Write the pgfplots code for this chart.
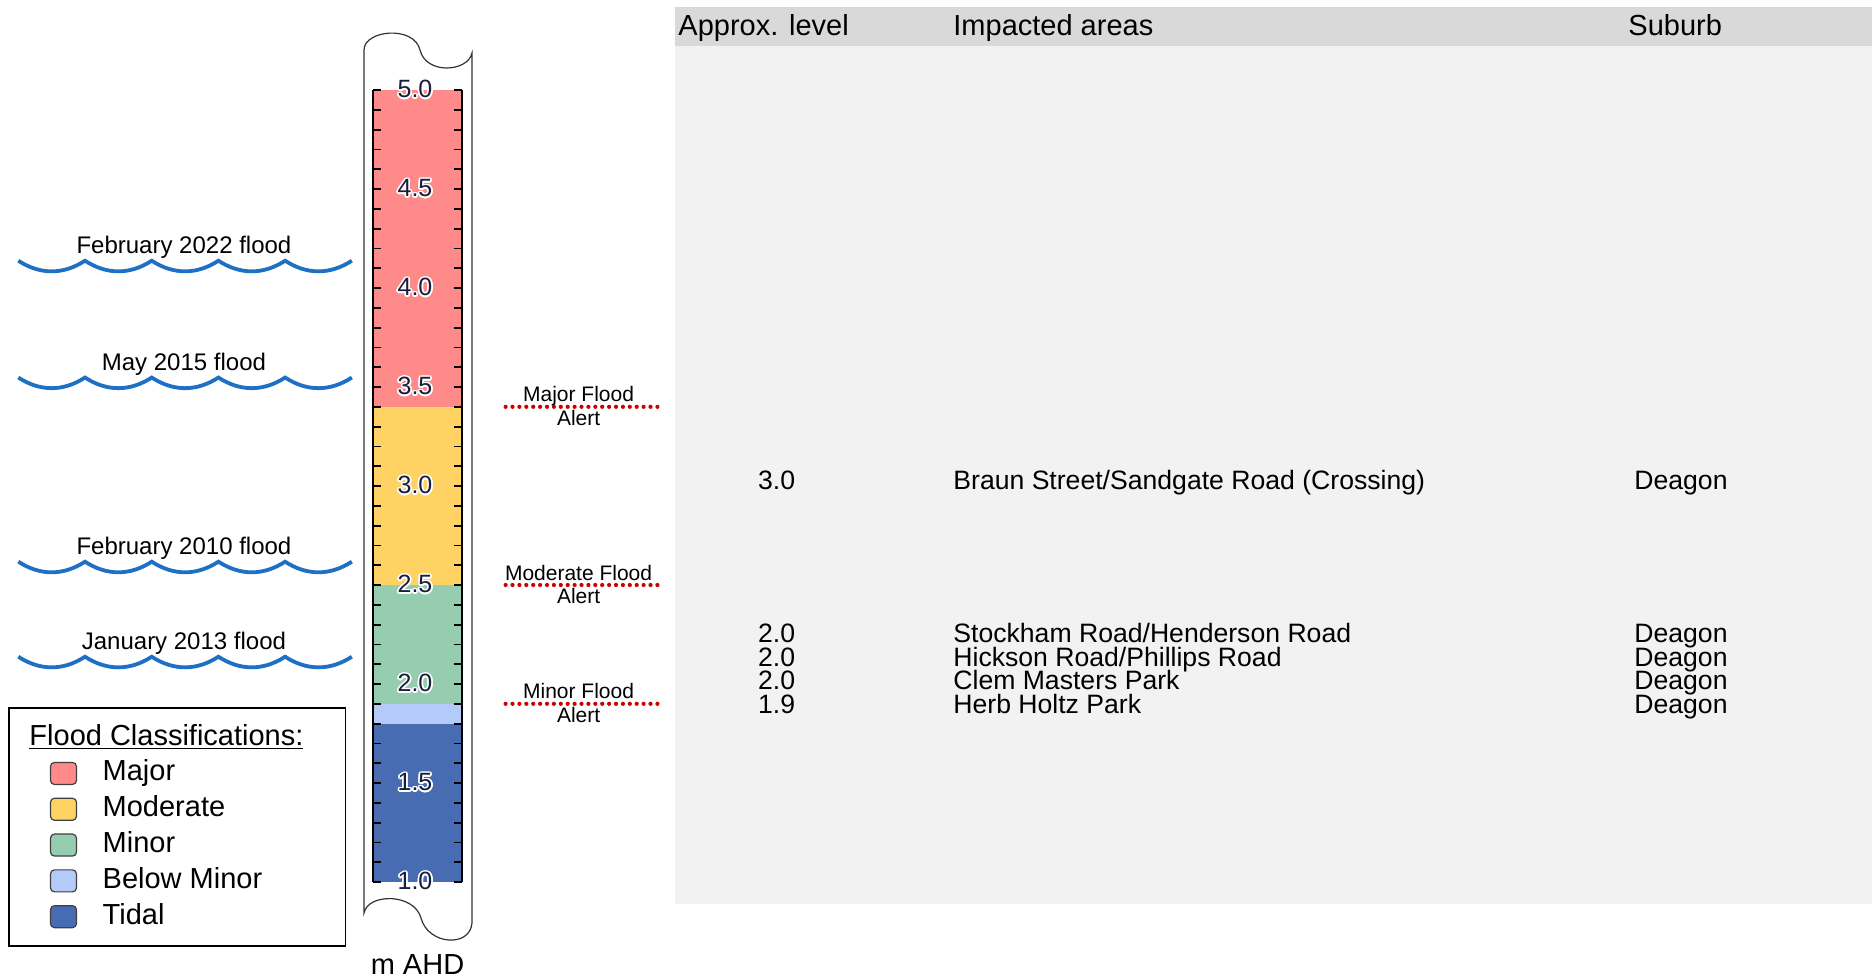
\documentclass[border=0pt]{standalone}
\usepackage{pgfplots}
\pgfplotsset{compat=1.18}
\usepackage{fontspec}
\setmainfont{Liberation Sans}
\usepackage{contour}
\contourlength{0.8pt}

\definecolor{cmajor}{RGB}{255,138,138}
\definecolor{cmoderate}{RGB}{255,210,100}
\definecolor{cminor}{RGB}{150,204,176}
\definecolor{cbelow}{RGB}{180,203,250}
\definecolor{ctidal}{RGB}{72,108,178}
\definecolor{cwave}{RGB}{30,112,196}
\definecolor{calert}{RGB}{205,0,0}
\definecolor{theadbg}{RGB}{217,217,217}
\definecolor{tbodybg}{RGB}{242,242,242}
\definecolor{ticktext}{RGB}{25,30,60}

\newcommand{\fsHead}{\fontsize{14.5}{17}\selectfont}
\newcommand{\fsRow}{\fontsize{13.3}{16}\selectfont}
\newcommand{\fsWave}{\fontsize{12}{14}\selectfont}
\newcommand{\fsAlert}{\fontsize{10.5}{12}\selectfont}

\begin{document}
\begin{tikzpicture}
\useasboundingbox (0,0) rectangle (936pt,-489pt);

% pixel grid of the reference: x to the right, y downwards
\begin{scope}[x=0.5pt,y=-0.5pt]
  % gauge scroll frame
  \draw[black!80, line width=0.6pt, fill=white]
    (364,913) -- (364,50)
    .. controls (364,30) and (414,25) .. (420,50)
    .. controls (426,75) and (468,72) .. (472,53)
    -- (472,923)
    .. controls (470,948) and (428,945) .. (421,918)
    .. controls (414,893) and (368,893) .. (364,913) -- cycle;

  % table of impacted areas
  \fill[tbodybg] (674.5,45.7) rectangle (1872,904);
  \fill[theadbg] (674.5,7) rectangle (1872,45.7);
  \begin{scope}[every node/.style={inner sep=0pt}]
    \node[anchor=base west, font=\fsHead] at (678,35.9) {Approx. level};
    \node[anchor=base west, font=\fsHead] at (953,35.9) {Impacted areas};
    \node[anchor=base west, font=\fsHead] at (1628,35.9) {Suburb};

    \node[anchor=base, font=\fsRow] at (776.6,489.5) {3.0};
    \node[anchor=base west, font=\fsRow] at (953,489.5) {Braun Street/Sandgate Road (Crossing)};
    \node[anchor=base west, font=\fsRow] at (1634,489.5) {Deagon};

    \node[anchor=base, font=\fsRow] at (776.6,642.3) {2.0};
    \node[anchor=base west, font=\fsRow] at (953,642.3) {Stockham Road/Henderson Road};
    \node[anchor=base west, font=\fsRow] at (1634,642.3) {Deagon};

    \node[anchor=base, font=\fsRow] at (776.6,666.3) {2.0};
    \node[anchor=base west, font=\fsRow] at (953,666.3) {Hickson Road/Phillips Road};
    \node[anchor=base west, font=\fsRow] at (1634,666.3) {Deagon};

    \node[anchor=base, font=\fsRow] at (776.6,689.6) {2.0};
    \node[anchor=base west, font=\fsRow] at (953,689.6) {Clem Masters Park};
    \node[anchor=base west, font=\fsRow] at (1634,689.6) {Deagon};

    \node[anchor=base, font=\fsRow] at (776.6,713.6) {1.9};
    \node[anchor=base west, font=\fsRow] at (953,713.6) {Herb Holtz Park};
    \node[anchor=base west, font=\fsRow] at (1634,713.6) {Deagon};
  \end{scope}
\end{scope}

\begin{axis}[
    at={(186.5pt,-441pt)}, anchor=south west,
    scale only axis, width=44.5pt, height=396pt,
    xmin=0, xmax=1, ymin=1, ymax=5,
    clip=false, axis on top,
    separate axis lines,
    x axis line style={draw=none},
    y axis line style={black, line width=0.9pt},
    xtick=\empty,
    ytick={1,1.5,2,2.5,3,3.5,4,4.5,5},
    minor y tick num=4,
    tick align=inside,
    major tick length=4pt, minor tick length=4pt,
    tick style={black, line width=0.9pt},
    /pgf/number format/assume math mode=true,
    yticklabel={\contour{white}{\pgfmathprintnumber[fixed,fixed zerofill,precision=1]{\tick}}},
    yticklabel style={anchor=center, xshift=21pt, font=\fontsize{12.5}{14}\selectfont, text=ticktext},
    xlabel={m AHD},
    xlabel style={at={(axis description cs:0.5,-0.1048)}, anchor=center, font=\fsHead},
    legend image code/.code={
      \path (-20.85pt,0pt);
      \draw[#1, draw=black!75, line width=0.6pt, rounded corners=2pt] (0pt,-5.5pt) rectangle (13pt,5.5pt);
    },
    legend cell align=left,
    legend style={at={(-4.1011,0.2205)}, anchor=north west,
      draw=black, line width=0.8pt,
      inner xsep=0pt, inner ysep=8pt,
      row sep=4.4pt, column sep=12.8pt,
      font=\fsHead,
      nodes={inner sep=0pt, text height=10.5pt, text depth=3pt}},
    legend entries={{\hspace*{-36.6pt}\underline{Flood Classifications:}\hspace*{21pt}},
      Major, Moderate, Minor, Below Minor, Tidal},
  ]
  \addlegendimage{empty legend}

  % flood classification bands (m AHD)
  \addplot[fill=cmajor, draw=none] coordinates {(0,3.4) (1,3.4) (1,5) (0,5)};
  \addplot[fill=cmoderate, draw=none] coordinates {(0,2.5) (1,2.5) (1,3.4) (0,3.4)};
  \addplot[fill=cminor, draw=none] coordinates {(0,1.9) (1,1.9) (1,2.5) (0,2.5)};
  \addplot[fill=cbelow, draw=none] coordinates {(0,1.8) (1,1.8) (1,1.9) (0,1.9)};
  \addplot[fill=ctidal, draw=none] coordinates {(0,1) (1,1) (1,1.8) (0,1.8)};

  % flood alert levels
  \addplot[calert, line width=2.1pt, dash pattern=on 0pt off 3.45pt, line cap=round, forget plot]
    coordinates {(1.49,3.4) (3.244,3.4)};
  \addplot[calert, line width=2.1pt, dash pattern=on 0pt off 3.45pt, line cap=round, forget plot]
    coordinates {(1.49,2.5) (3.244,2.5)};
  \addplot[calert, line width=2.1pt, dash pattern=on 0pt off 3.45pt, line cap=round, forget plot]
    coordinates {(1.49,1.9) (3.244,1.9)};

  \node[anchor=base, font=\fsAlert, inner sep=0pt, yshift=2.5pt] at (axis cs:2.31,3.4) {Major Flood};
  \node[anchor=base, font=\fsAlert, inner sep=0pt, yshift=-9.3pt] at (axis cs:2.31,3.4) {Alert};
  \node[anchor=base, font=\fsAlert, inner sep=0pt, yshift=2.5pt] at (axis cs:2.31,2.5) {Moderate Flood};
  \node[anchor=base, font=\fsAlert, inner sep=0pt, yshift=-9.3pt] at (axis cs:2.31,2.5) {Alert};
  \node[anchor=base, font=\fsAlert, inner sep=0pt, yshift=2.5pt] at (axis cs:2.31,1.9) {Minor Flood};
  \node[anchor=base, font=\fsAlert, inner sep=0pt, yshift=-9.3pt] at (axis cs:2.31,1.9) {Alert};

  % historical flood marks
  \draw[cwave, line width=1.9pt] (axis cs:-3.985,4.11) ++(0pt,2.75pt)
    \foreach \k in {1,...,5} { to[out=-33,in=-147] ++(33.35pt,0pt) };
  \draw[cwave, line width=1.9pt] (axis cs:-3.985,3.52) ++(0pt,2.75pt)
    \foreach \k in {1,...,5} { to[out=-33,in=-147] ++(33.35pt,0pt) };
  \draw[cwave, line width=1.9pt] (axis cs:-3.985,2.59) ++(0pt,2.75pt)
    \foreach \k in {1,...,5} { to[out=-33,in=-147] ++(33.35pt,0pt) };
  \draw[cwave, line width=1.9pt] (axis cs:-3.985,2.11) ++(0pt,2.75pt)
    \foreach \k in {1,...,5} { to[out=-33,in=-147] ++(33.35pt,0pt) };

  \node[anchor=base, font=\fsWave, inner sep=0pt, yshift=6.35pt] at (axis cs:-2.124,4.11) {February 2022 flood};
  \node[anchor=base, font=\fsWave, inner sep=0pt, yshift=6.35pt] at (axis cs:-2.124,3.52) {May 2015 flood};
  \node[anchor=base, font=\fsWave, inner sep=0pt, yshift=6.35pt] at (axis cs:-2.124,2.59) {February 2010 flood};
  \node[anchor=base, font=\fsWave, inner sep=0pt, yshift=6.35pt] at (axis cs:-2.124,2.11) {January 2013 flood};
\end{axis}
\end{tikzpicture}
\end{document}
